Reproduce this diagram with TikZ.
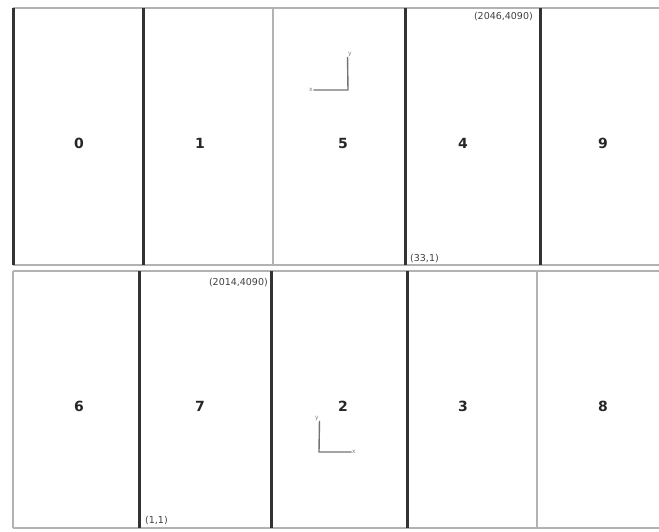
\documentclass[tikz,border=0pt]{standalone}
\usepackage{fontspec}
\setmainfont{DejaVu Sans}
\usetikzlibrary{positioning}

\begin{document}
\begin{tikzpicture}[
    x=1pt, y=-1pt,
    frame/.style={draw=black!30, line width=1.6pt},
    seam/.style={draw=black!80, line width=3pt},
    num/.style={font=\fontsize{14}{16}\selectfont\bfseries, text=black!85},
    corner/.style={font=\fontsize{9.5}{11}\selectfont, text=black!75, inner sep=0pt},
    axis/.style={draw=black!55, line width=1.4pt},
    tip/.style={font=\fontsize{6}{7}\selectfont, text=black!50, inner sep=0.5pt}
  ]
    \useasboundingbox (0,0) rectangle (659,531);

    % top row
    \draw[frame] (13,8) -- (659,8);
    \draw[frame] (13,265) -- (659,265);
    \draw[frame] (273,8) -- (273,265);
    \draw[seam] (13,8) -- (13,265);
    \draw[seam] (143,8) -- (143,265);
    \draw[seam] (405,8) -- (405,265);
    \draw[seam] (540,8) -- (540,265);

    % bottom row
    \draw[frame] (13,271) -- (659,271);
    \draw[frame] (13,528) -- (659,528);
    \draw[frame] (13,271) -- (13,528);
    \draw[frame] (537,271) -- (537,528);
    \draw[seam] (139,271) -- (139,528);
    \draw[seam] (271,271) -- (271,528);
    \draw[seam] (407,271) -- (407,528);

    \node[num] (n0) at (79,143) {0};
    \node[num] (n1) at (200,143) {1};
    \node[num] (n5) at (343,143) {5};
    \node[num] (n4) at (463,143) {4};
    \node[num] (n9) at (603,143) {9};
    \node[num] (n6) at (79,406) {6};
    \node[num] (n7) at (200,406) {7};
    \node[num] (n2) at (343,406) {2};
    \node[num] (n3) at (463,406) {3};
    \node[num] (n8) at (603,406) {8};

    \node[corner, anchor=east] (c4top) at (533,17) {(2046,4090)};
    \node[corner, anchor=west] (c4bot) at (410,259) {(33,1)};
    \node[corner, anchor=east] (c7top) at (268,283) {(2014,4090)};
    \node[corner, anchor=west] (c7bot) at (145,521) {(1,1)};

    % axes in panel 5
    \coordinate (o5) at (348,90);
    \node[tip] (y5) at (350,54) {y};
    \node[tip] (x5) at (311,90) {x};
    \draw[axis] (y5.south west) -- (o5) -- (x5.east);

    % axes in panel 2
    \coordinate (o2) at (319,452);
    \node[tip] (y2) at (317,418) {y};
    \node[tip] (x2) at (354,452) {x};
    \draw[axis] (y2.south east) -- (o2) -- (x2.west);
  \end{tikzpicture}
\end{document}
